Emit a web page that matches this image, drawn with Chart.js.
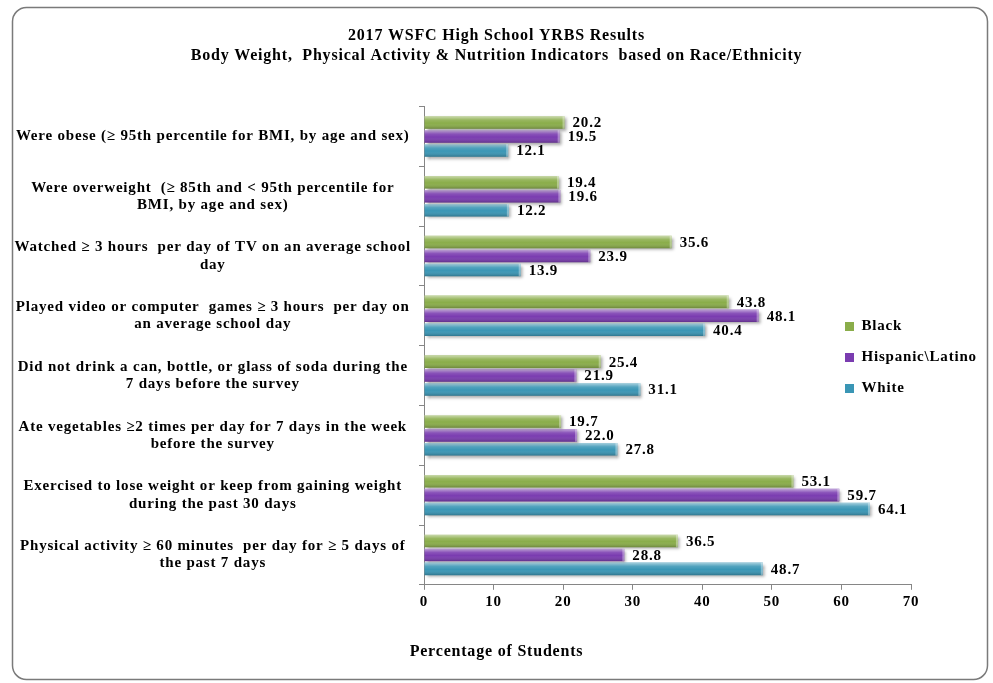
<!DOCTYPE html>
<html>
<head>
<meta charset="utf-8">
<title>2017 WSFC High School YRBS Results</title>
<script src="https://cdn.jsdelivr.net/npm/chart.js@4.4.1/dist/chart.umd.min.js"></script>
<style>
  html, body { margin: 0; padding: 0; background: #fff; }
  #wrap { width: 993px; height: 683px; }
</style>
</head>
<body>
<div id="wrap"><canvas id="yrbsChart"></canvas></div>
<script>
// categories (multi-line ones are split the way the original wraps them)
const categories = [
    'Were obese (\u2265 95th percentile for BMI, by age and sex)',
    ['Were overweight  (\u2265 85th and < 95th percentile for', 'BMI, by age and sex)'],
    ['Watched \u2265 3 hours  per day of TV on an average school', 'day'],
    ['Played video or computer  games \u2265 3 hours  per day on', 'an average school day'],
    ['Did not drink a can, bottle, or glass of soda during the', '7 days before the survey'],
    ['Ate vegetables \u22652 times per day for 7 days in the week', 'before the survey'],
    ['Exercised to lose weight or keep from gaining weight', 'during the past 30 days'],
    ['Physical activity \u2265 60 minutes  per day for \u2265 5 days of', 'the past 7 days']
];

const blackValues    = [20.2, 19.4, 35.6, 43.8, 25.4, 19.7, 53.1, 36.5];
const hispanicValues = [19.5, 19.6, 23.9, 48.1, 21.9, 22.0, 59.7, 28.8];
const whiteValues    = [12.1, 12.2, 13.9, 40.4, 31.1, 27.8, 64.1, 48.7];

const seriesNames = ['Black', 'Hispanic\\Latino', 'White'];
const xTickValues = [0, 10, 20, 30, 40, 50, 60, 70];

const serif = '"Liberation Serif", "Times New Roman", serif';
Chart.defaults.font.family = serif;
Chart.defaults.color = '#000';

// the original text is set a little wide; spread the letters the same way
const wideText = {
    id: 'wideText',
    beforeUpdate(chart) { chart.ctx.letterSpacing = '0.8px'; },
    beforeDraw(chart) { chart.ctx.letterSpacing = '0.8px'; }
};

// rounded frame round the whole chart
const frame = {
    id: 'frame',
    beforeDraw(chart) {
        const ctx = chart.ctx;
        ctx.save();
        ctx.strokeStyle = '#7a7a7a';
        ctx.lineWidth = 1.5;
        ctx.beginPath();
        ctx.roundRect(12.5, 7.5, 975, 672, 14);
        ctx.stroke();
        ctx.restore();
    }
};

// drop shadow, glossy overlay and value labels on the bars
const barDeco = {
    id: 'barDeco',
    beforeDatasetsDraw(chart) {
        const ctx = chart.ctx;
        ctx.save();
        ctx.shadowColor = 'rgba(0,0,0,0.35)';
        ctx.shadowBlur = 3;
        ctx.shadowOffsetX = 2;
        ctx.shadowOffsetY = 2;
    },
    afterDatasetsDraw(chart) {
        const ctx = chart.ctx;
        ctx.restore();
        ctx.save();
        chart.data.datasets.forEach((ds, di) => {
            chart.getDatasetMeta(di).data.forEach((bar, i) => {
                const p = bar.getProps(['x', 'y', 'base', 'height'], true);
                const top = p.y - p.height / 2;
                const g = ctx.createLinearGradient(0, top, 0, top + p.height);
                g.addColorStop(0, 'rgba(255,255,255,0.55)');
                g.addColorStop(0.3, 'rgba(255,255,255,0.12)');
                g.addColorStop(0.55, 'rgba(255,255,255,0)');
                g.addColorStop(1, 'rgba(0,0,0,0.22)');
                ctx.fillStyle = g;
                ctx.fillRect(p.base, top, p.x - p.base, p.height);
                ctx.fillStyle = 'rgba(255,255,255,0.35)';
                ctx.fillRect(p.x - 2, top, 2, p.height);

                ctx.fillStyle = '#000';
                ctx.font = 'bold 15px ' + serif;
                ctx.textBaseline = 'middle';
                ctx.textAlign = 'left';
                ctx.fillText(ds.data[i].toFixed(1), p.x + 8, p.y + 1);
            });
        });
        ctx.restore();
    }
};

// the legend sits inside the plot, to the right of the bars
const legendSpot = {
    id: 'legendSpot',
    afterLayout(chart) {
        const lg = chart.legend;
        lg.left = 829;
        lg.right = 990;
        lg.top = 303;
        lg.bottom = 440;
        lg.width = lg.right - lg.left;
        lg.height = lg.bottom - lg.top;
    }
};

const ctx = document.getElementById('yrbsChart').getContext('2d');

const yrbsChart = new Chart(ctx, {
    type: 'bar',
    data: {
        labels: categories,
        datasets: [
            { label: seriesNames[0], data: blackValues, backgroundColor: '#8AAD4A' },
            { label: seriesNames[1], data: hispanicValues, backgroundColor: '#7A3CB0' },
            { label: seriesNames[2], data: whiteValues, backgroundColor: '#3A96B5' }
        ]
    },
    options: {
        indexAxis: 'y',
        responsive: true,
        maintainAspectRatio: false,
        animation: false,
        events: [],
        datasets: {
            bar: { barPercentage: 0.9, categoryPercentage: 0.7, borderWidth: 0 }
        },
        layout: {
            padding: { top: 8, left: 14, right: 14, bottom: 8 }
        },
        scales: {
            x: {
                min: 0,
                max: 70,
                afterBuildTicks: (scale) => {
                    scale.ticks = xTickValues.map(v => ({ value: v }));
                },
                grid: { drawOnChartArea: false, drawTicks: true, tickLength: 5, color: '#868686' },
                border: { color: '#868686', width: 1 },
                ticks: { font: { size: 15, weight: 'bold' }, padding: 3, color: '#000' }
            },
            y: {
                afterFit: (scale) => { scale.width = 410; },
                grid: { drawOnChartArea: false, drawTicks: true, tickLength: 5, color: '#868686' },
                border: { color: '#868686', width: 1 },
                ticks: {
                    crossAlign: 'center',
                    padding: 8,
                    color: '#000',
                    font: { size: 15, weight: 'bold', lineHeight: 1.15 }
                }
            }
        },
        plugins: {
            title: {
                display: true,
                text: ['2017 WSFC High School YRBS Results',
                       'Body Weight,  Physical Activity & Nutrition Indicators  based on Race/Ethnicity'],
                color: '#000',
                font: { size: 16, weight: 'bold', lineHeight: 1.3 },
                padding: { top: 17, bottom: 40 }
            },
            subtitle: {
                display: true,
                position: 'bottom',
                text: 'Percentage of Students',
                color: '#000',
                font: { size: 16, weight: 'bold', lineHeight: 1.2 },
                padding: { top: 28, bottom: 14 }
            },
            legend: {
                position: 'right',
                align: 'start',
                maxWidth: 68,
                labels: {
                    boxWidth: 9,
                    boxHeight: 9,
                    padding: 16,
                    color: '#000',
                    font: { size: 15, weight: 'bold' }
                }
            },
            tooltip: { enabled: false }
        }
    },
    plugins: [wideText, frame, barDeco, legendSpot]
});
</script>
</body>
</html>
